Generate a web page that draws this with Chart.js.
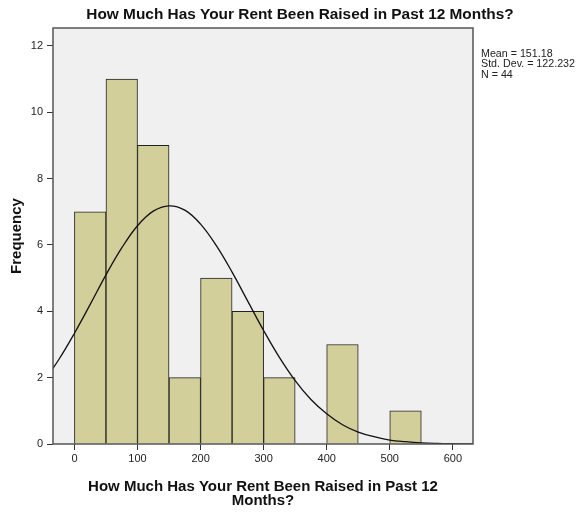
<!DOCTYPE html>
<html>
<head>
<meta charset="utf-8">
<script src="https://cdn.jsdelivr.net/npm/chart.js@4/dist/chart.umd.min.js"></script>
<style>
    html, body { margin: 0; padding: 0; background: #fff; }
    #wrap { width: 580px; height: 512px; }
</style>
</head>
<body>
<div id="wrap"><canvas id="histChart" width="580" height="512"></canvas></div>
<script>
// histogram bins (width 50) and counts
const binCenters = [25, 75, 125, 175, 225, 275, 325, 375, 425, 475, 525];
const frequencies = [7, 11, 9, 2, 5, 4, 2, 0, 3, 0, 1];

// normal curve
const curveX = [-50, -25, 0, 25, 50, 75, 100, 125, 150, 175, 200, 225, 250, 275, 300,
                325, 350, 375, 400, 425, 450, 475, 500, 525, 550, 575, 600, 625, 650];
const curveY = [1.85, 2.54, 3.34, 4.21, 5.10, 5.91, 6.58, 7.02, 7.18, 7.05, 6.63, 5.98, 5.18, 4.30, 3.42,
                2.61, 1.91, 1.34, 0.91, 0.58, 0.36, 0.22, 0.12, 0.07, 0.035, 0.018, 0.009, 0.004, 0.002];

const xTicks = [0, 100, 200, 300, 400, 500, 600];
const yTicks = [0, 2, 4, 6, 8, 10, 12];

const chartTitle = 'How Much Has Your Rent Been Raised in Past 12 Months?';
const xTitle = ['How Much Has Your Rent Been Raised in Past 12', 'Months?'];
const yTitle = 'Frequency';
const statsLines = ['Mean = 151.18', 'Std. Dev. = 122.232', 'N = 44'];

const FONT = 'Arial, "Liberation Sans", sans-serif';

const framePlugin = {
    id: 'frame',
    beforeDraw(chart) {
        const { ctx, chartArea: a } = chart;
        ctx.save();
        ctx.fillStyle = '#f0f0f0';
        ctx.fillRect(a.left, a.top, a.right - a.left, a.bottom - a.top);
        ctx.restore();
    },
    afterDatasetsDraw(chart) {
        const { ctx, chartArea: a } = chart;
        ctx.save();
        ctx.strokeStyle = '#555';
        ctx.lineWidth = 1.5;
        ctx.strokeRect(a.left, a.top, a.right - a.left, a.bottom - a.top);
        ctx.restore();
    },
    afterDraw(chart) {
        const { ctx } = chart;
        ctx.save();
        ctx.fillStyle = '#111';
        ctx.textAlign = 'center';
        ctx.textBaseline = 'middle';
        ctx.font = 'bold 15.4px ' + FONT;
        ctx.fillText(chartTitle, 300, 15);
        ctx.textAlign = 'left';
        ctx.font = '10.7px ' + FONT;
        ctx.fillStyle = '#222';
        statsLines.forEach((s, i) => ctx.fillText(s, 481, 54 + i * 10.5));
        ctx.restore();
    }
};

const ctx = document.getElementById('histChart').getContext('2d');
new Chart(ctx, {
    type: 'bar',
    data: {
        datasets: [
            {
                type: 'line',
                data: curveX.map((x, i) => ({ x: x, y: curveY[i] })),
                borderColor: '#111',
                borderWidth: 1.3,
                pointRadius: 0,
                tension: 0.4,
                fill: false,
                order: 0
            },
            {
                type: 'bar',
                data: binCenters.map((x, i) => ({ x: x, y: frequencies[i] })),
                backgroundColor: '#d3cf9a',
                borderColor: '#222',
                borderWidth: 1,
                barPercentage: 1,
                categoryPercentage: 1,
                order: 1
            }
        ]
    },
    options: {
        responsive: false,
        animation: false,
        layout: { padding: { left: 0, right: 107, top: 28, bottom: 0 } },
        plugins: {
            legend: { display: false },
            tooltip: { enabled: false }
        },
        scales: {
            x: {
                type: 'linear',
                min: -34,
                max: 632,
                offset: false,
                grid: { display: true, offset: false, drawOnChartArea: false, drawTicks: true, tickLength: 6, color: '#333' },
                border: { display: false },
                afterBuildTicks: (s) => { s.ticks = xTicks.map(v => ({ value: v })); },
                ticks: { color: '#222', font: { family: FONT, size: 11 }, padding: 2, maxRotation: 0 },
                title: {
                    display: true,
                    text: xTitle,
                    color: '#111',
                    font: { family: FONT, size: 15, weight: 'bold', lineHeight: 0.95 },
                    padding: { top: 0, bottom: 4 }
                },
                afterFit: (s) => { s.height = 68; }
            },
            y: {
                min: 0,
                max: 12.54,
                grid: { display: true, drawOnChartArea: false, drawTicks: true, tickLength: 6, color: '#333' },
                border: { display: false },
                afterBuildTicks: (s) => { s.ticks = yTicks.map(v => ({ value: v })); },
                ticks: { color: '#222', font: { family: FONT, size: 11 }, padding: 4 },
                title: {
                    display: true,
                    text: yTitle,
                    color: '#111',
                    font: { family: FONT, size: 15, weight: 'bold' },
                    padding: { top: 8, bottom: 0 }
                },
                afterFit: (s) => { s.width = 53; }
            }
        }
    },
    plugins: [framePlugin]
});
</script>
</body>
</html>
